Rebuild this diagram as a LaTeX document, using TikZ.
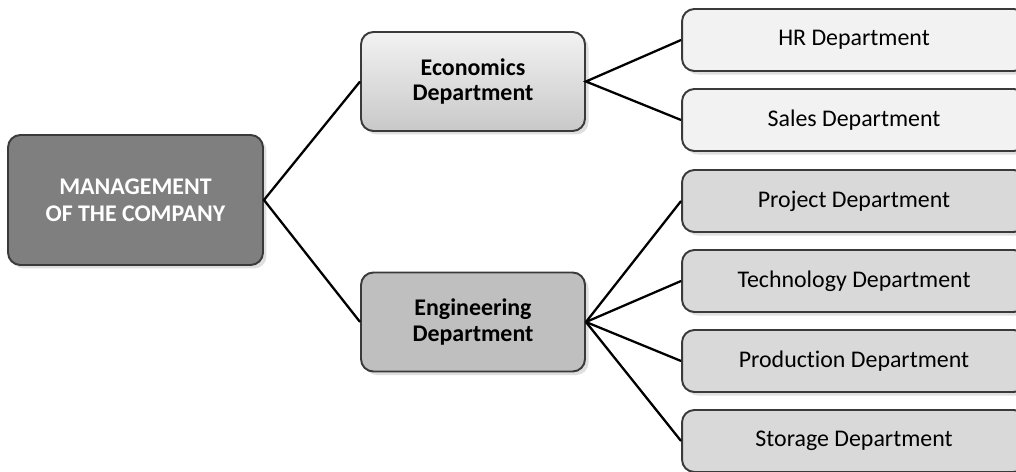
\documentclass[tikz,border=0pt]{standalone}
\usepackage{fontspec}
\setmainfont{Carlito}[Ligatures=NoCommon]
\usetikzlibrary{shadows}
\definecolor{edge}{HTML}{3A3A3A}
\definecolor{mgmt}{HTML}{7F7F7F}
\definecolor{engfill}{HTML}{BFBFBF}
\definecolor{light}{HTML}{F2F2F2}
\definecolor{mid}{HTML}{D9D9D9}
\begin{document}
\begin{tikzpicture}[x=0.02cm, y=-0.02cm,
  box/.style={draw=edge, line width=1.1pt, rounded corners=7pt, align=center,
    drop shadow={opacity=0.25, shadow xshift=2pt, shadow yshift=-2pt}},
  head/.style={box, fill=mgmt, text=white, font=\bfseries\fontsize{13.6}{15.5}\selectfont,
    minimum width=5.1cm, minimum height=2.6cm},
  dept/.style={box, font=\bfseries\fontsize{13.6}{14.6}\selectfont,
    minimum width=4.48cm, minimum height=1.98cm},
  unit/.style={box, font=\fontsize{13.6}{16}\selectfont,
    minimum width=6.88cm, minimum height=1.24cm},
  link/.style={line width=1.3pt, black}]
  \useasboundingbox (0,0) rectangle (1016,472);
  \clip (0,0) rectangle (1016,472);
  % top level
  \node[head] (mgmt) at (135.5,200) {MANAGEMENT\\OF THE COMPANY};
  % departments
  \node[dept, top color=light, bottom color=engfill!85] (econ) at (473,81.5) {Economics\\Department};
  \node[dept, fill=engfill] (eng) at (473,322) {Engineering\\Department};
  % units
  \node[unit, fill=light] (hr) at (854,40) {HR Department};
  \node[unit, fill=light] (sales) at (854,120) {Sales Department};
  \node[unit, fill=mid] (proj) at (854,201) {Project Department};
  \node[unit, fill=mid] (tech) at (854,281) {Technology Department};
  \node[unit, fill=mid] (prod) at (854,361) {Production Department};
  \node[unit, fill=mid] (stor) at (854,441) {Storage Department};
  % links
  \draw[link] (econ.west) -- (mgmt.east) -- (eng.west);
  \draw[link] (hr.west) -- (econ.east) -- (sales.west);
  \foreach \u in {proj,tech,prod,stor}
    \draw[link] (eng.east) -- (\u.west);
\end{tikzpicture}
\end{document}
